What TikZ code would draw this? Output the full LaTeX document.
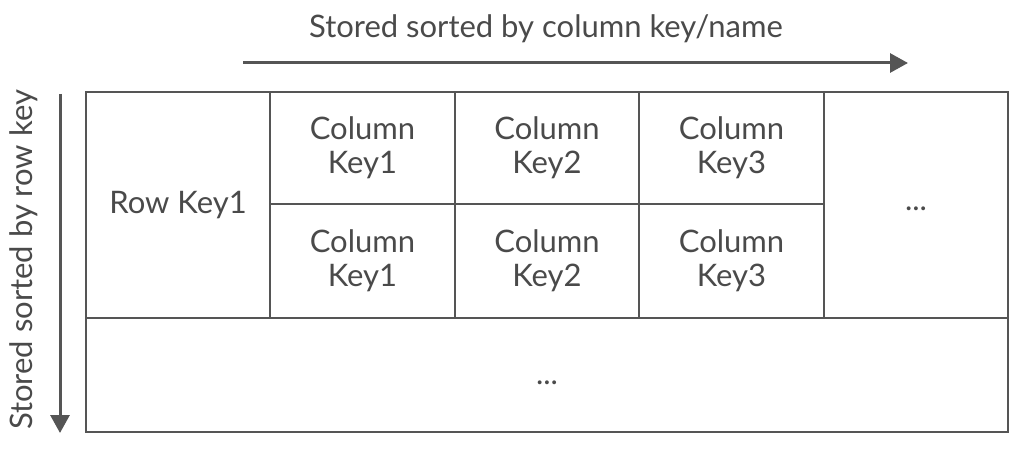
\documentclass[tikz,border=0pt]{standalone}
\usepackage{fontspec}
\setmainfont{Lato}
\usetikzlibrary{arrows.meta}
\definecolor{linec}{HTML}{555555}
\definecolor{textc}{HTML}{4A4A4A}
\begin{document}
\begin{tikzpicture}[x=1pt,y=-1pt,
  cell/.style={draw=linec, line width=2pt, inner sep=0pt, text=textc, align=center,
    font=\fontsize{31}{34}\selectfont},
  lbl/.style={text=textc, inner sep=0pt, font=\fontsize{31}{34}\selectfont},
  sortarrow/.style={draw=linec, line width=3pt, -{Triangle[length=18pt,width=19pt]}}]
\useasboundingbox (0,0) rectangle (1030,462);
\node[cell, minimum width=922pt, minimum height=114pt] (dots2) at (547,375) {\raisebox{-9pt}[0pt][0pt]{...}};
\node[cell, minimum width=184pt, minimum height=226pt] (rowkey) at (178,205) {Row Key1};
\node[cell, minimum width=184pt, minimum height=226pt] (dots1) at (916,205) {\raisebox{-6pt}[0pt][0pt]{...}};
\node[cell, minimum width=185pt, minimum height=112pt] (c11) at (362.5,148) {Column\\Key1};
\node[cell, minimum width=184pt, minimum height=112pt] (c12) at (547,148) {Column\\Key2};
\node[cell, minimum width=185pt, minimum height=112pt] (c13) at (731.5,148) {Column\\Key3};
\node[cell, minimum width=185pt, minimum height=114pt] (c21) at (362.5,261) {Column\\Key1};
\node[cell, minimum width=184pt, minimum height=114pt] (c22) at (547,261) {Column\\Key2};
\node[cell, minimum width=185pt, minimum height=114pt] (c23) at (731.5,261) {Column\\Key3};
\node[lbl] (toplbl) at (546,29) {Stored sorted by column key/name};
\node[lbl, rotate=90] (leftlbl) at (24,260) {Stored sorted by row key};
\coordinate (ts) at (243,63);
\coordinate (te) at (908,63);
\coordinate (ls) at (60,94);
\coordinate (le) at (60,433);
\draw[sortarrow] (ts) -- (te);
\draw[sortarrow] (ls) -- (le);
\end{tikzpicture}
\end{document}
